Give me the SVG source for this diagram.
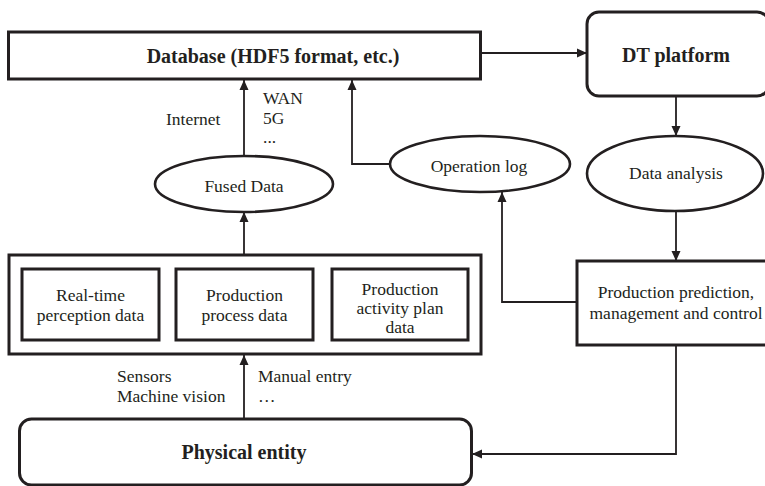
<svg xmlns="http://www.w3.org/2000/svg" width="765" height="486" viewBox="0 0 765 486">
  <defs>
    <marker id="arrow" viewBox="0 0 10 10" refX="10" refY="5" markerWidth="10" markerHeight="10" markerUnits="userSpaceOnUse" orient="auto">
      <path d="M0,0.5 L10,5 L0,9.5 Z" fill="#231f20"/>
    </marker>
  </defs>
  <style>
    .box { fill: #fff; stroke: #231f20; stroke-width: 3; }
    .ell { fill: #fff; stroke: #231f20; stroke-width: 2.6; }
    .wire { fill: none; stroke: #231f20; stroke-width: 1.8; }
    .arr { marker-end: url(#arrow); }
    text { font-family: "Liberation Serif", "Times New Roman", serif; fill: #231f20; }
    .t { font-size: 17.5px; }
    .c { text-anchor: middle; }
    .b { font-size: 20px; font-weight: bold; text-anchor: middle; }
  </style>
  <rect width="765" height="486" fill="#fff"/>

  <g id="connectors">
    <path class="wire arr" d="M481,53 H587"/>
    <path class="wire arr" d="M676,97 V136"/>
    <path class="wire arr" d="M676,211 V261"/>
    <path class="wire arr" d="M577,302 H502 V192"/>
    <path class="wire arr" d="M390,164 H352 V80"/>
    <path class="wire arr" d="M244,156 V80"/>
    <path class="wire arr" d="M244,255 V212"/>
    <path class="wire arr" d="M244,419 V355"/>
    <path class="wire arr" d="M676,345 V454 H472"/>
  </g>

  <g id="link-labels">
    <text class="t" x="166" y="125">Internet</text>
    <text class="t" x="263" y="104">WAN</text>
    <text class="t" x="263" y="124">5G</text>
    <text class="t" x="263" y="143">...</text>
    <text class="t" x="117" y="382">Sensors</text>
    <text class="t" x="117" y="402">Machine vision</text>
    <text class="t" x="258" y="382">Manual entry</text>
    <text class="t" x="258" y="402">…</text>
  </g>

  <g id="database">
    <rect class="box" x="8.5" y="32" width="472" height="47"/>
    <text class="b" x="273" y="63">Database (HDF5 format, etc.)</text>
  </g>

  <g id="dt-platform">
    <rect class="box" x="587" y="12" width="182" height="84" rx="12"/>
    <text class="b" x="676" y="62">DT platform</text>
  </g>

  <g id="data-analysis">
    <ellipse class="ell" cx="675" cy="173.5" rx="88" ry="37.5"/>
    <text class="t c" x="676" y="179">Data analysis</text>
  </g>

  <g id="operation-log">
    <ellipse class="ell" cx="480" cy="164" rx="90" ry="28"/>
    <text class="t c" x="479" y="172">Operation log</text>
  </g>

  <g id="fused-data">
    <ellipse class="ell" cx="244" cy="184" rx="89" ry="28"/>
    <text class="t c" x="244" y="192">Fused Data</text>
  </g>

  <g id="data-sources">
    <rect class="box" x="9" y="255" width="472" height="99"/>
    <rect class="box" x="22" y="269" width="137" height="71"/>
    <text class="t c" x="90.5" y="301">Real-time</text>
    <text class="t c" x="90.5" y="321">perception data</text>
    <rect class="box" x="176" y="269" width="137" height="71"/>
    <text class="t c" x="244.5" y="301">Production</text>
    <text class="t c" x="244.5" y="321">process data</text>
    <rect class="box" x="332" y="269" width="136" height="71"/>
    <text class="t c" x="400" y="295">Production</text>
    <text class="t c" x="400" y="314">activity plan</text>
    <text class="t c" x="400" y="333">data</text>
  </g>

  <g id="prediction-control">
    <rect class="box" x="577" y="261" width="200" height="84"/>
    <text class="t c" x="676" y="298">Production prediction,</text>
    <text class="t c" x="676" y="319">management and control</text>
  </g>

  <g id="physical-entity">
    <rect class="box" x="19.5" y="419" width="452" height="66" rx="12"/>
    <text class="b" x="244" y="459">Physical entity</text>
  </g>
</svg>
